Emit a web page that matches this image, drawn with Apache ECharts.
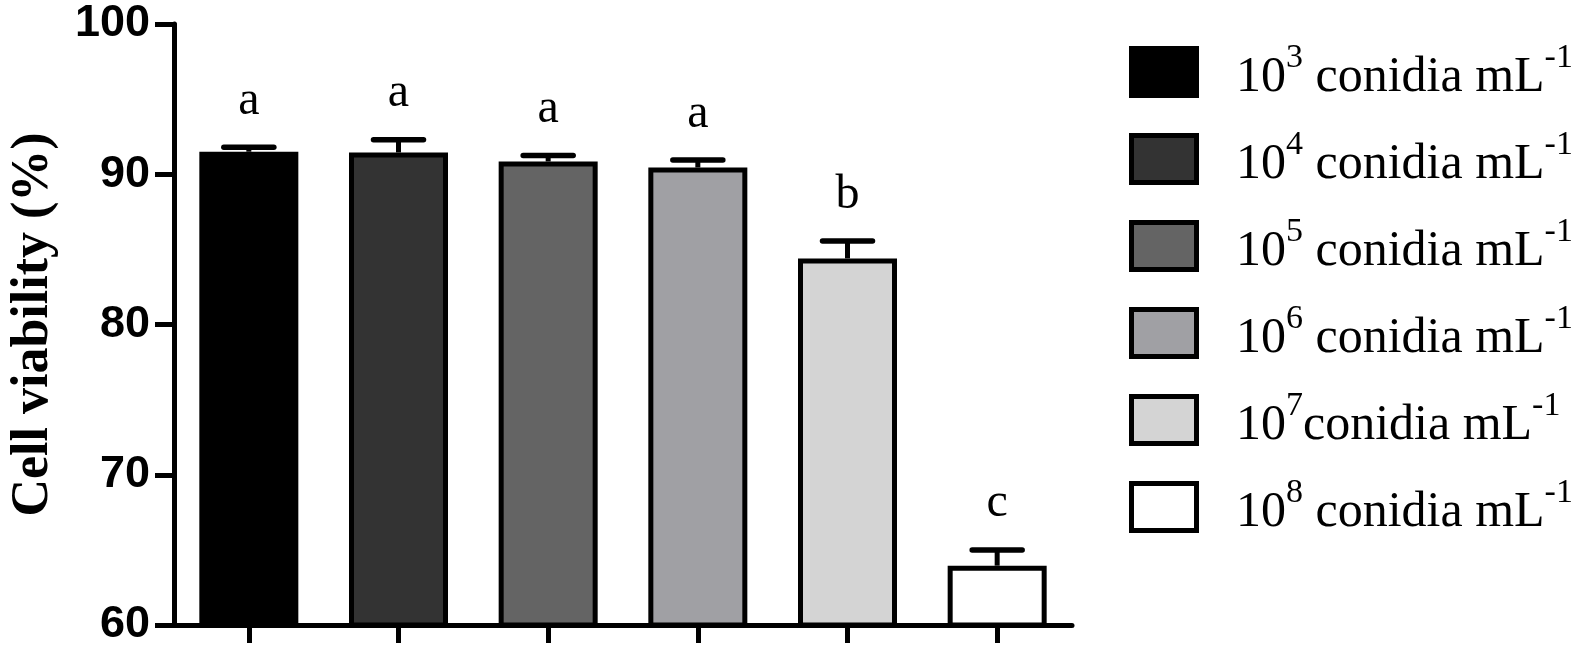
<!DOCTYPE html>
<html>
<head>
<meta charset="utf-8">
<script src="https://cdn.jsdelivr.net/npm/echarts@6/dist/echarts.min.js"></script>
<style>
html,body{margin:0;padding:0;background:#fff;}
#chart{width:1577px;height:657px;}
</style>
</head>
<body>
<div id="chart"></div>
<script>
// ---- data ----
const categories = ['10³ conidia mL⁻¹', '10⁴ conidia mL⁻¹', '10⁵ conidia mL⁻¹', '10⁶ conidia mL⁻¹', '10⁷ conidia mL⁻¹', '10⁸ conidia mL⁻¹'];
const exponents = ['3', '4', '5', '6', '7', '8'];
const unitText = [' conidia mL', ' conidia mL', ' conidia mL', ' conidia mL', 'conidia mL', ' conidia mL'];
const viability = [91.5, 91.45, 90.85, 90.45, 84.4, 63.95];
const sdValues = [0.3, 0.85, 0.4, 0.5, 1.15, 1.05];
const letters = ['a', 'a', 'a', 'a', 'b', 'c'];
const yTicks = [60, 70, 80, 90, 100];
const fills = ['#000000', '#333333', '#646464', '#a0a0a4', '#d4d4d4', '#ffffff'];

const chart = echarts.init(document.getElementById('chart'), null, {renderer: 'canvas'});

const barSeries = categories.map((name, i) => ({
  name: name,
  type: 'bar',
  barWidth: 99,
  barGap: '-100%',
  data: categories.map((c, j) => (j === i ? viability[i] : '-')),
  itemStyle: {color: fills[i], borderColor: '#000', borderWidth: 5},
  emphasis: {disabled: true},
  z: 2
}));

const errData = viability.map((v, i) => [i, v, sdValues[i]]);

const errSeries = {
  type: 'custom',
  name: 'err',
  data: errData,
  encode: {x: 0, y: 1},
  z: 3,
  silent: true,
  renderItem: function (params, api) {
    const i = api.value(0);
    const m = api.value(1);
    const s = api.value(2);
    const base = api.coord([i, m]);
    const top = api.coord([i, m + s]);
    return {
      type: 'group',
      children: [
        {type: 'line', shape: {x1: base[0], y1: base[1], x2: top[0], y2: top[1]},
          style: {stroke: '#000', lineWidth: 5}},
        {type: 'line', shape: {x1: top[0] - 25, y1: top[1], x2: top[0] + 25, y2: top[1]},
          style: {stroke: '#000', lineWidth: 5.5, lineCap: 'round'}},
        {type: 'text', x: top[0], y: top[1] - 22,
          style: {text: letters[params.dataIndex], fontFamily: 'Liberation Serif', fontSize: 48,
            fill: '#000', align: 'center', verticalAlign: 'bottom'}}
      ]
    };
  }
};

const option = {
  animation: false,
  backgroundColor: '#fff',
  grid: {left: 168, right: 505, top: 24, bottom: 32, containLabel: false},
  legend: {
    show: true,
    orient: 'vertical',
    left: 1129,
    top: 41.25,
    padding: 0,
    icon: 'rect',
    itemWidth: 65,
    itemHeight: 47,
    itemGap: 25.5,
    selectedMode: false,
    data: categories,
    itemStyle: {borderColor: '#000', borderWidth: 5},
    formatter: function (name) {
      const i = categories.indexOf(name);
      return '{n|10}{s|' + exponents[i] + '}{n|' + unitText[i] + '}{s|-1}';
    },
    textStyle: {
      color: '#000',
      fontFamily: 'Liberation Serif',
      fontSize: 50,
      padding: [0, 0, 0, 34.5],
      rich: {
        n: {fontFamily: 'Liberation Serif', fontSize: 50, lineHeight: 61.5, verticalAlign: 'bottom', color: '#000'},
        s: {fontFamily: 'Liberation Serif', fontSize: 34, lineHeight: 20, verticalAlign: 'top', color: '#000'}
      }
    }
  },
  xAxis: {
    type: 'category',
    data: categories,
    axisLine: {show: true, lineStyle: {color: '#000', width: 5}},
    axisTick: {show: true, alignWithLabel: true, length: 18, lineStyle: {color: '#000', width: 5}},
    axisLabel: {show: false},
    splitLine: {show: false}
  },
  yAxis: {
    type: 'value',
    min: yTicks[0],
    max: yTicks[yTicks.length - 1],
    interval: 10,
    name: 'Cell viability (%)',
    nameLocation: 'middle',
    nameGap: 114,
    nameTextStyle: {fontFamily: 'Liberation Serif', fontWeight: 'bold', fontSize: 52, color: '#000'},
    axisLine: {show: true, lineStyle: {color: '#000', width: 5}},
    axisTick: {show: true, length: 19, lineStyle: {color: '#000', width: 5}},
    axisLabel: {show: true, margin: 24, fontFamily: 'Liberation Sans', fontWeight: 'bold', fontSize: 45, color: '#000'},
    splitLine: {show: false}
  },
  series: barSeries.concat([errSeries])
};

chart.setOption(option);
</script>
</body>
</html>
